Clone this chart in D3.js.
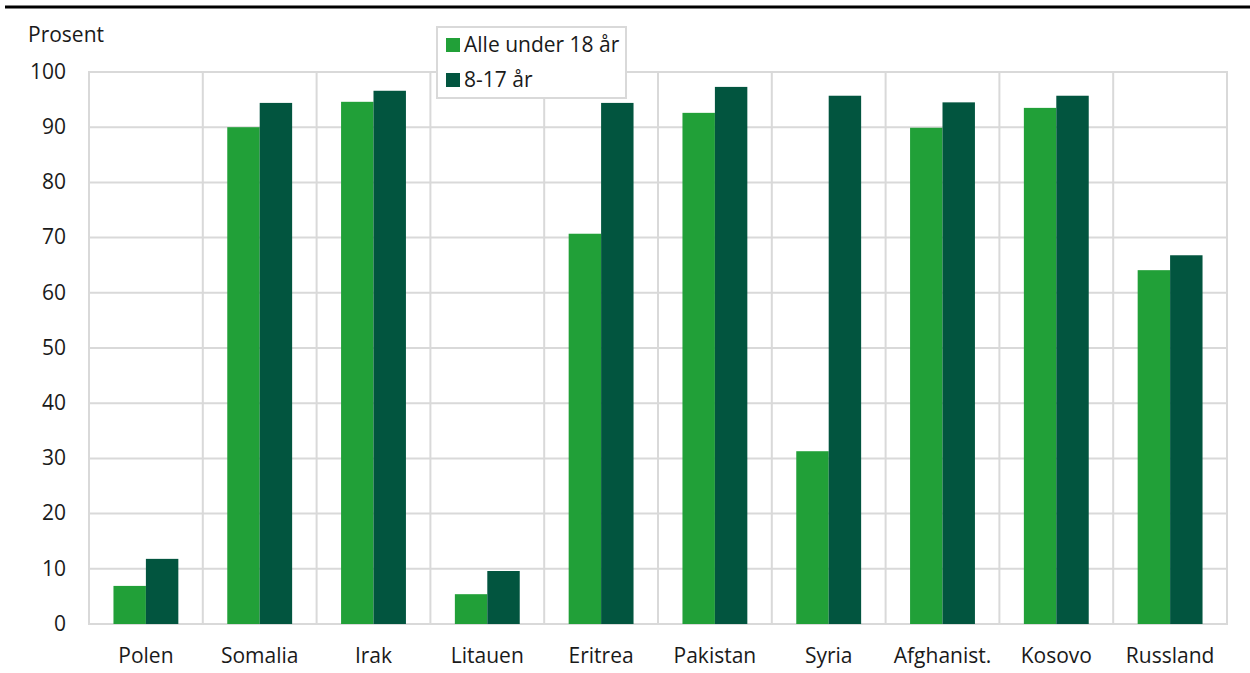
<!DOCTYPE html>
<html><head><meta charset="utf-8">
<script src="https://cdn.jsdelivr.net/npm/d3@7"></script>
<style>body{margin:0;background:#fff}svg{display:block}text{font-family:"Open Sans",sans-serif;fill:#1a1a1a}</style>
</head><body>
<svg id="c" width="1250" height="673"></svg>
<script>
const categories = ["Polen","Somalia","Irak","Litauen","Eritrea","Pakistan","Syria","Afghanist.","Kosovo","Russland"];
const seriesNames = ["Alle under 18 år","8-17 år"];
const allUnder18 = [6.9, 90.0, 94.6, 5.4, 70.7, 92.6, 31.3, 89.9, 93.5, 64.1];
const age8to17 = [11.8, 94.4, 96.6, 9.6, 94.4, 97.3, 95.7, 94.5, 95.7, 66.8];
const yTicks = [0,10,20,30,40,50,60,70,80,90,100];
const colors = ["#21a038", "#02553f"];

const svg = d3.select("#c");
const L = 89, R = 1227, T = 72, B = 624;
const x0 = d3.scaleBand().domain(categories).range([L, R]).padding(0);
const step = x0.bandwidth();
const x1 = d3.scaleBand().domain(seriesNames).range([step*0.215, step*0.785]).padding(0);
const y = d3.scaleLinear().domain([0,100]).range([B, T]);

// top rule
svg.append("rect").attr("x",5).attr("y",5.5).attr("width",1245).attr("height",3).attr("fill","#000");

// grid horizontal
const g = svg.append("g");
g.selectAll("line.h").data(yTicks).join("line")
  .attr("x1", L-1).attr("x2", R).attr("y1", d=>y(d)).attr("y2", d=>y(d))
  .attr("stroke","#d9d9d9").attr("stroke-width",2);
// grid vertical at band boundaries
const bounds = categories.map(c=>x0(c)).concat([R]);
g.selectAll("line.v").data(bounds).join("line")
  .attr("x1", d=>d).attr("x2", d=>d).attr("y1", T-1).attr("y2", B+1)
  .attr("stroke","#d9d9d9").attr("stroke-width",2);

// bars
const data = categories.map((c,i)=>({c, vals:[allUnder18[i], age8to17[i]]}));
const grp = svg.append("g").selectAll("g").data(data).join("g")
  .attr("transform", d=>`translate(${x0(d.c)},0)`);
grp.selectAll("rect").data(d=>d.vals.map((v,j)=>({v, s:seriesNames[j], j}))).join("rect")
  .attr("x", d=>x1(d.s)).attr("width", x1.bandwidth())
  .attr("y", d=>y(d.v)).attr("height", d=>B - y(d.v))
  .attr("fill", d=>colors[d.j]);

// y axis labels
const yAxis = d3.axisLeft(y).tickValues(yTicks).tickSize(0).tickPadding(0);
const ya = svg.append("g").attr("transform",`translate(66,0)`).call(yAxis);
ya.select(".domain").remove();
ya.selectAll("text").style("font-family","'Open Sans',sans-serif").style("font-size","21px").attr("fill","#1a1a1a").attr("dy","0.3em");

// x axis labels
const xAxis = d3.axisBottom(x0).tickSize(0).tickPadding(0);
const xa = svg.append("g").attr("transform",`translate(0,${B})`).call(xAxis);
xa.select(".domain").remove();
xa.selectAll("text").style("font-family","'Open Sans',sans-serif").style("font-size","21px").attr("fill","#1a1a1a").attr("y", 39).attr("dy", 0);

svg.append("text").attr("x",28).attr("y",42).style("font-size","21px").text("Prosent");

// legend
const lg = svg.append("g");
lg.append("rect").attr("x",437).attr("y",27).attr("width",189).attr("height",71)
  .attr("fill","#fff").attr("stroke","#d9d9d9").attr("stroke-width",2);
seriesNames.forEach((s,i)=>{
  lg.append("rect").attr("x",446).attr("y",38+i*35).attr("width",14).attr("height",14).attr("fill",colors[i]);
  lg.append("text").attr("x",464).attr("y",52+i*35).style("font-size","21px").text(s);
});
</script>
</body></html>
